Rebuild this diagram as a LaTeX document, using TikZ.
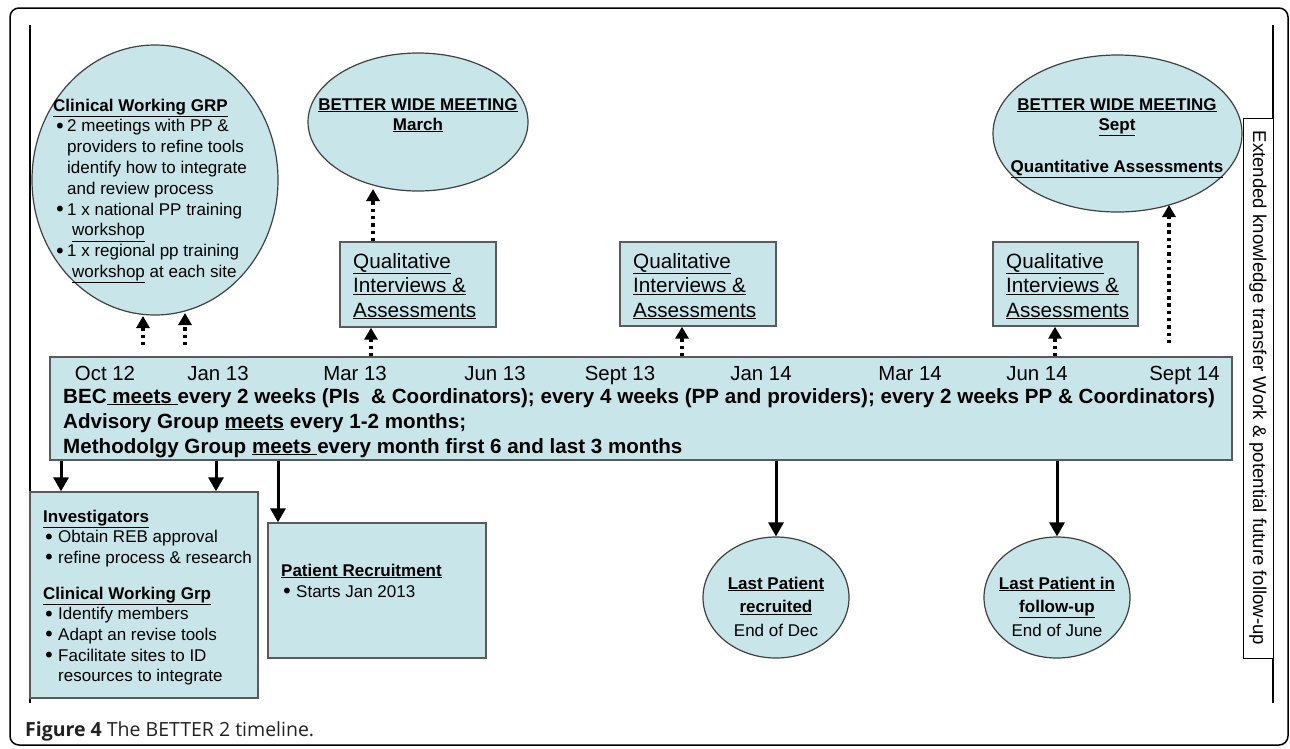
\documentclass[tikz,border=0pt]{standalone}
\usepackage{fontspec}
\setmainfont{Liberation Sans}
\newfontfamily\capfont{Open Sans}
\newfontfamily\symfont{DejaVu Sans}
\usetikzlibrary{arrows.meta,shapes.geometric}
\definecolor{fillc}{HTML}{C8E6EA}
\definecolor{edgec}{HTML}{5A5A5A}
\definecolor{elledge}{HTML}{404040}
\newcommand\fsz[2]{\fontsize{#1}{#2}\selectfont}
\newcommand\bigbul{\raisebox{-1.5pt}{\symfont\fontsize{20}{20}\selectfont •}}
\newcommand\bulA{\hspace*{1pt}\makebox[13pt][l]{\bigbul}}
\newcommand\indA{\hspace*{14pt}}
\newcommand\bulB{\makebox[15pt][l]{\bigbul}}
\newcommand\indB{\hspace*{15pt}}
\begin{document}
\begin{tikzpicture}[x=1pt,y=-1pt,
  box/.style={draw=edgec, line width=1.4pt, fill=fillc, rectangle, inner sep=0},
  ell/.style={draw=elledge, line width=1.2pt, fill=fillc, ellipse, inner sep=0},
  txt/.style={inner sep=0, anchor=base west},
  ctxt/.style={inner sep=0, anchor=base},
  solidarr/.style={line width=3pt, -{Triangle[width=15pt,length=14pt]}},
  dotarr/.style={line width=4pt, dash pattern=on 3.5pt off 3.8pt, -{Triangle[width=13pt,length=12pt]}},
]
\useasboundingbox (0,0) rectangle (1290,748);
% frame
\draw[line width=1.5pt, rounded corners=9pt] (10,8) rectangle (1288,745);
\coordinate (lt) at (30,25); \coordinate (lb) at (30,703);
\coordinate (rt) at (1273,25); \coordinate (rb) at (1273,703);
\draw[line width=1.3pt] (lt) -- (lb);
\draw[line width=1.6pt] (rt) -- (rb);

% extended box
\node[draw=black, line width=1pt, fill=white, rectangle, inner sep=0, minimum width=30pt, minimum height=540pt] (ext) at (1258,388) {};
\node[inner sep=0, rotate=-90] (extt) at (ext.center) {\fsz{18.6}{22}Extended knowledge transfer Work \& potential future follow-up};

% timeline
\node[box, minimum width=1182pt, minimum height=103pt] (tl) at (641,408.5) {};
\foreach \n/\x/\t in {d1/105/Oct 12, d2/218/Jan 13, d3/355/Mar 13, d4/495/Jun 13, d5/620/Sept 13, d6/761/Jan 14, d7/910/Mar 14, d8/1037/Jun 14, d9/1184.5/Sept 14}
  \node[ctxt] (\n) at (\x,380) {\fsz{20.4}{24}\t};
\node[txt] (tltext) at (63,403) {\fsz{20.6}{25}\bfseries\begin{tabular}[t]{@{}l@{}}
BEC\underline{\ meets\ }every 2 weeks (PIs\ \ \& Coordinators); every 4 weeks (PP and providers); every 2 weeks PP \& Coordinators)\\
Advisory Group \underline{meets} every 1-2 months;\\
Methodolgy Group \underline{meets\ }every month first 6 and last 3 months
\end{tabular}};

% clinical working GRP ellipse
\node[ell, minimum width=246pt, minimum height=270pt] (cwg) at (155,180) {};
\node[txt] (cwgt) at (53,111) {\fsz{17}{20.8}\begin{tabular}[t]{@{}l@{}}
\underline{\textbf{Clinical Working GRP}}\\
\bulA 2 meetings with PP \&\\
\indA providers to refine tools\\
\indA identify how to integrate\\
\indA and review process\\
\bulA 1 x national PP training\\
\hspace*{19pt}\underline{workshop}\\
\bulA 1 x regional pp training\\
\hspace*{19pt}\underline{workshop} at each site
\end{tabular}};

% Better wide meeting March
\node[ell, minimum width=220pt, minimum height=138pt] (bw1) at (418,122) {};
\node[ctxt] (bw1t) at (418,110) {\fsz{17}{20}\bfseries\begin{tabular}[t]{@{}c@{}}
\underline{BETTER WIDE MEETING}\\ \underline{March}\end{tabular}};

% Better wide meeting Sept
\node[ell, minimum width=249pt, minimum height=157pt] (bw2) at (1117.5,133.5) {};
\node[ctxt] (bw2t) at (1117,110) {\fsz{17}{20}\bfseries\begin{tabular}[t]{@{}c@{}}
\underline{BETTER WIDE MEETING}\\ \underline{Sept}\\[22pt] \underline{Quantitative Assessments}\end{tabular}};

% Qualitative boxes
\node[box, minimum width=156pt, minimum height=85pt] (q1) at (418,284.5) {};
\node[box, minimum width=156pt, minimum height=84pt] (q2) at (698,284) {};
\node[box, minimum width=145pt, minimum height=84pt] (q3) at (1065.5,284) {};
\foreach \n/\x in {q1t/353, q2t/633, q3t/1006}
  \node[txt] (\n) at (\x,268) {\fsz{20.7}{24.5}\begin{tabular}[t]{@{}l@{}}
  \underline{Qualitative}\\ \underline{Interviews \&}\\ \underline{Assessments}\end{tabular}};

% Investigators box
\node[box, minimum width=228pt, minimum height=206pt] (inv) at (144,595) {};
\node[txt] (invt) at (43,522) {\fsz{17}{20.6}\begin{tabular}[t]{@{}l@{}}
\underline{\textbf{Investigators}}\\
\bulB Obtain REB approval\\
\bulB refine process \& research\\[15.4pt]
\underline{\textbf{Clinical Working Grp}}\\
\bulB Identify members\\
\bulB Adapt an revise tools\\
\bulB Facilitate sites to ID\\
\indB resources to integrate
\end{tabular}};

% Patient recruitment box
\node[box, minimum width=218pt, minimum height=135pt] (pr) at (377,590.5) {};
\node[txt] (prt) at (281,576) {\fsz{17}{21}\begin{tabular}[t]{@{}l@{}}
\underline{\textbf{Patient Recruitment}}\\
\bulB Starts Jan 2013
\end{tabular}};

% Last patient ellipses
\node[ell, minimum width=146pt, minimum height=121pt] (lp1) at (776,597.5) {};
\node[ctxt] (lp1t) at (776,589) {\fsz{17}{23.5}\begin{tabular}[t]{@{}c@{}}
\underline{\textbf{Last Patient}}\\ \underline{\textbf{recruited}}\\ End of Dec\end{tabular}};
\node[ell, minimum width=146pt, minimum height=121pt] (lp2) at (1057,597.5) {};
\node[ctxt] (lp2t) at (1057,589) {\fsz{17}{23.5}\begin{tabular}[t]{@{}c@{}}
\underline{\textbf{Last Patient in}}\\ \underline{\textbf{follow-up}}\\ End of June\end{tabular}};

% solid arrows down
\draw[solidarr] (tl.south -| 61,0) -- (inv.north -| 61,0);
\draw[solidarr] (tl.south -| 216,0) -- (inv.north -| 216,0);
\draw[solidarr] (tl.south -| 278,0) -- (pr.north -| 278,0);
\draw[solidarr] (tl.south -| lp1.north) -- (lp1.north);
\draw[solidarr] (tl.south -| lp2.north) -- (lp2.north);

% dotted arrows up
\coordinate (e1) at (143,316);
\coordinate (e2) at (185,313);
\coordinate (e3) at (373,189);
\coordinate (e4) at (1169,205);
\draw[dotarr, shorten <=11pt] (tl.north -| e1) -- (e1);
\draw[dotarr, shorten <=11pt] (tl.north -| e2) -- (e2);
\draw[dotarr] (tl.north -| 371,0) -- (q1.south -| 371,0);
\draw[dotarr] (q1.north -| e3) -- (e3);
\draw[dotarr] (tl.north -| 682,0) -- (q2.south -| 682,0);
\draw[dotarr] (tl.north -| 1055,0) -- (q3.south -| 1055,0);
\draw[dotarr, shorten <=13pt] (tl.north -| e4) -- (e4);

% caption
\node[txt] (cap) at (25,736) {\capfont\fsz{19.5}{22}\color[HTML]{222222}\textbf{Figure 4} The BETTER 2 timeline.};
\end{tikzpicture}
\end{document}
